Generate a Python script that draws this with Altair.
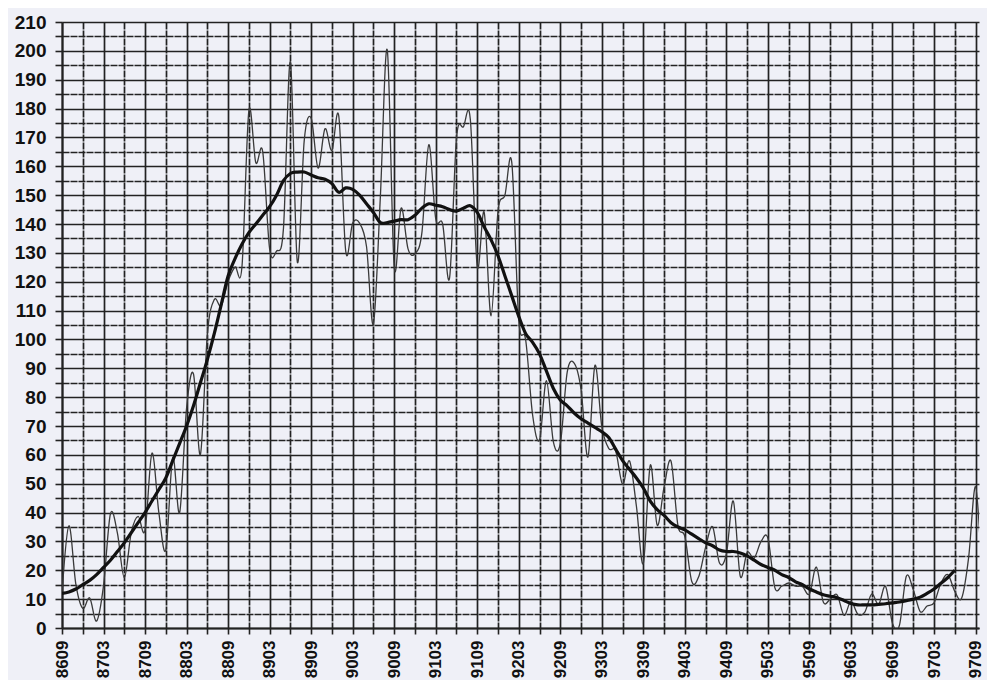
import altair as alt
import pandas as pd

# Monthly values, Sep 1986 (8609) onward
thin_values = [
    12, 35.4, 15.2, 6.8,
    10.4, 2.4, 14.7, 39.6, 33.0, 17.4, 33.0, 38.7, 33.9, 60.6, 39.9, 27.1,
    59.0, 40.0, 76.2, 88.0, 60.1, 101.8, 113.8, 111.6, 120.1, 125.1, 125.1, 179.2,
    161.3, 165.1, 131.4, 130.6, 138.5, 196.2, 126.9, 168.9, 176.7, 159.4, 173.0, 165.5,
    177.3, 130.5, 140.3, 140.3, 132.2, 105.4, 149.4, 200.3, 125.2, 145.5, 131.4, 129.7,
    136.9, 167.5, 141.9, 140.0, 121.3, 169.7, 173.7, 176.3, 125.3, 144.1, 108.2, 144.4,
    150.0, 161.1, 106.7, 99.8, 73.8, 65.2, 85.7, 64.5, 63.9, 88.7, 91.8, 82.6,
    59.3, 91.0, 69.8, 62.2, 61.3, 49.8, 57.9, 42.2, 22.4, 56.4, 35.6, 48.9,
    57.8, 35.5, 31.7, 16.1, 17.8, 28.0, 35.1, 22.5, 25.7, 44.0, 18.0, 26.2,
    24.2, 29.9, 31.1, 14.0, 14.5, 15.6, 14.5, 14.3, 11.8, 21.1, 9.0, 10.0,
    11.5, 4.4, 9.2, 4.8, 5.5, 11.8, 8.2, 14.4, 1.6, 0.9, 17.9, 13.3,
    5.7, 7.6, 8.7, 15.5, 18.5, 12.7, 10.4, 24.4, 49.0, 22.8, 39.0,
]

smooth_values = [
    12, 12.5, 13.5, 15,
    16.5, 18.5, 21, 23.5, 26.5, 29.5, 33, 36.5, 40, 44, 48, 52,
    58, 64, 70, 77, 85, 93, 102, 112, 122, 128, 133, 137,
    140, 143, 146, 150, 155, 157.5, 158, 158, 157, 156, 155.5, 154,
    151, 152.5, 152, 150, 147, 144, 140.5, 140.5, 141, 141.5, 141.5, 143,
    145.5, 147, 146.5, 146, 145, 144.5, 145.5, 146.3, 144, 139, 134.5, 129,
    122, 115, 108, 102, 99, 95, 89, 83, 79, 77, 74.5, 72.5,
    71, 69.5, 68, 66, 62, 58, 55, 52, 48.5, 44, 41, 39,
    36.5, 35, 34, 32.5, 31, 29.5, 28.5, 27, 26.5, 26.5, 26, 25,
    23.5, 22, 21, 20, 18.5, 17.5, 16, 15, 13.5, 12.5, 11.5, 11,
    10.5, 9.5, 8.5, 8, 8, 8, 8.2, 8.4, 8.7, 9, 9.5, 10,
    10.7, 12, 13.5, 15.5, 17.5, 20,
]

x_labels = ["8609", "8703", "8709", "8803", "8809", "8903", "8909", "9003",
            "9009", "9103", "9109", "9203", "9209", "9303", "9309", "9403",
            "9409", "9503", "9509", "9603", "9609", "9703", "9709"]

thin_df = pd.DataFrame({"m": list(range(len(thin_values))), "v": thin_values})
smooth_df = pd.DataFrame({"m": list(range(len(smooth_values))), "v": smooth_values})

label_arr = "[" + ",".join("'%s'" % s for s in x_labels) + "]"

grid_col = "#222222"

x_axis = alt.Axis(
    values=list(range(0, 133, 3)),
    tickCount=500,
    format="d",
    labelExpr="datum.value % 6 == 0 ? " + label_arr + "[datum.value / 6] : ''",
    labelAngle=-90,
    labelFont="Liberation Sans",
    labelFontWeight="bold",
    labelFontSize=17,
    labelColor="#111111",
    labelPadding=6,
    labelOverlap=False,
    labelFlush=False,
    tickSize=6,
    tickColor=grid_col,
    tickWidth=1.6,
    domainColor=grid_col,
    domainWidth=2,
    grid=True,
    gridColor=grid_col,
    gridWidth=1.7,
    gridDash={"condition": {"test": "datum.value % 6 != 0", "value": [7, 1]}, "value": []},
    gridOpacity=1,
    title=None,
)

y_axis = alt.Axis(
    values=list(range(0, 211, 5)),
    tickCount=500,
    format="d",
    labelExpr="datum.value % 10 == 0 ? datum.label : ''",
    labelFont="Liberation Sans",
    labelFontWeight="bold",
    labelFontSize=19,
    labelColor="#111111",
    labelPadding=9,
    labelOverlap=False,
    labelFlush=False,
    tickSize=7,
    tickColor=grid_col,
    tickWidth=1.6,
    domainColor=grid_col,
    domainWidth=2,
    grid=True,
    gridColor=grid_col,
    gridWidth=1.7,
    gridDash={"condition": {"test": "datum.value % 10 != 0", "value": [7, 1]}, "value": []},
    gridOpacity=1,
    title=None,
)

x_scale = alt.Scale(domain=[0, 132.5], nice=False, zero=False)
y_scale = alt.Scale(domain=[0, 210], nice=False)

thin = alt.Chart(thin_df).mark_line(
    color="#3a3a3a", strokeWidth=1.3, interpolate="cardinal", clip=True
).encode(
    x=alt.X("m:Q", scale=x_scale, axis=x_axis),
    y=alt.Y("v:Q", scale=y_scale, axis=y_axis),
)

thick = alt.Chart(smooth_df).mark_line(
    color="#111111", strokeWidth=3.2, interpolate="cardinal", clip=True
).encode(
    x=alt.X("m:Q", scale=x_scale, axis=x_axis),
    y=alt.Y("v:Q", scale=y_scale, axis=y_axis),
)

chart = alt.layer(thin, thick).properties(
    width=917,
    height=606,
    background="#eff0f7",
    padding={"left": 54, "top": 14, "right": 8, "bottom": 52},
    autosize=alt.AutoSizeParams(type="none"),
).configure_view(strokeWidth=0)

chart.save("out.html", embed_options={"renderer": "svg", "actions": False})
